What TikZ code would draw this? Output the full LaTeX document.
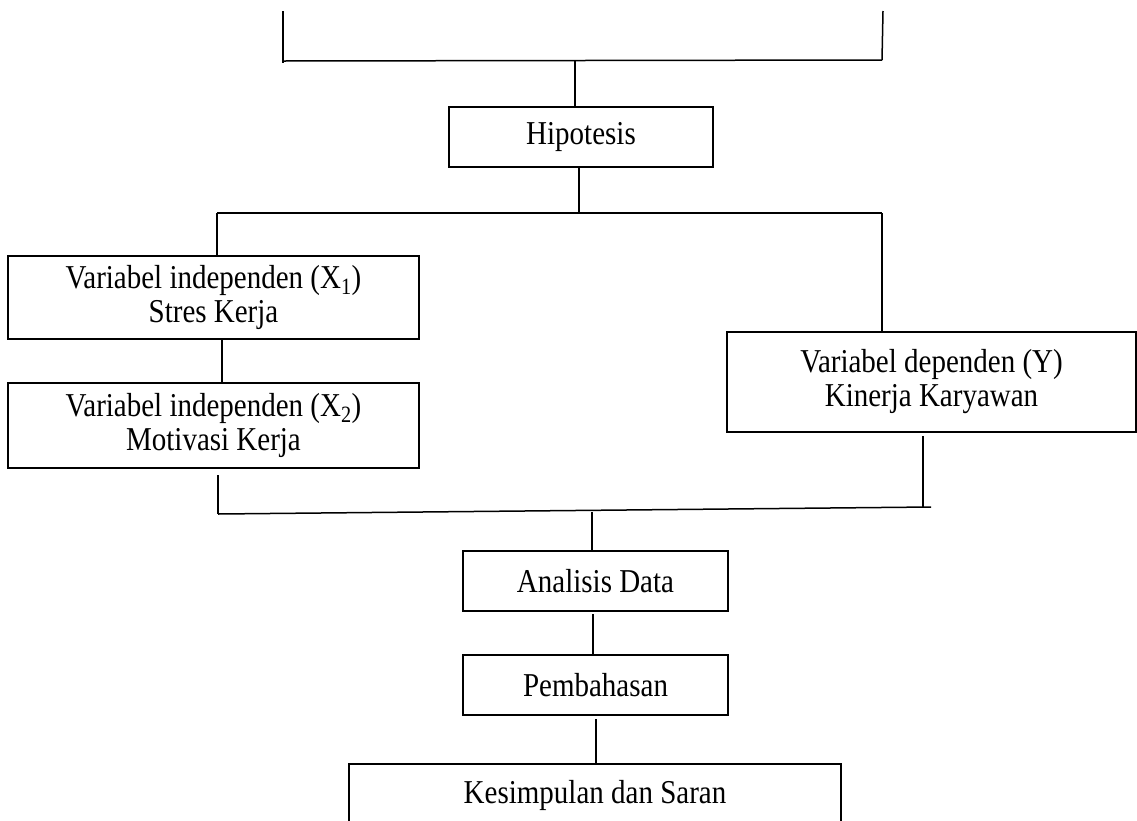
\documentclass[tikz,border=0pt]{standalone}
\usepackage{fontspec}
\setmainfont{Liberation Serif}
\newcommand{\tallline}[1]{\scalebox{1}[1.15]{#1}}
\begin{document}
\begin{tikzpicture}[x=1pt,y=-1pt,
  box/.style={draw=black, line width=1.3pt, inner sep=0pt, align=center,
    font=\fontsize{29}{34}\selectfont},
  conn/.style={draw=black, line width=1.5pt}]
\useasboundingbox (0,0) rectangle (1137,820);
\clip (0,0) rectangle (1137,820);
% boxes
\node[box, minimum width=264pt, minimum height=60pt] (hip) at (581,137) {\tallline{Hipotesis}};
\node[box, minimum width=411pt, minimum height=83pt] (x1) at (213.5,297.5) {\tallline{Variabel independen (X\textsubscript{1})}\\\tallline{Stres Kerja}};
\node[box, minimum width=411pt, minimum height=85pt] (x2) at (213.5,425.5) {\tallline{Variabel independen (X\textsubscript{2})}\\\tallline{Motivasi Kerja}};
\node[box, minimum width=409pt, minimum height=100pt] (dep) at (931.5,382) {\tallline{Variabel dependen (Y)}\\\tallline{Kinerja Karyawan}};
\node[box, minimum width=265pt, minimum height=60pt] (ana) at (595.5,581) {\tallline{Analisis Data}};
\node[box, minimum width=265pt, minimum height=60pt] (pem) at (595.5,685) {\tallline{Pembahasan}};
\node[box, minimum width=492pt, minimum height=70pt, text depth=0pt] (kes) at (595,799) {\raisebox{14pt}{\tallline{Kesimpulan dan Saran}}};
% top bracket
\coordinate (tl1) at (283,11);
\coordinate (tl2) at (283,63);
\coordinate (tr1) at (883,11);
\coordinate (tr2) at (882,60);
\coordinate (tm) at (575,61);
\draw[conn] (tl1) -- (tl2);
\draw[conn] (tr1) -- (tr2);
\draw[conn] (283,61) -- (tr2);
\draw[conn] (tm) -- (tm |- hip.north);
% split below Hipotesis
\coordinate (sm) at (579,213);
\coordinate (sl) at (217,213);
\coordinate (sr) at (882,213);
\draw[conn] (hip.south -| sm) -- (sm);
\draw[conn] (sl) -- (sr);
\draw[conn] (sl) -- (sl |- x1.north);
\draw[conn] (sr) -- (sr |- dep.north);
% X1 to X2
\coordinate (c12) at (222,339);
\draw[conn] (x1.south -| c12) -- (c12 |- x2.north);
% merge
\coordinate (ml1) at (218,475);
\coordinate (ml2) at (218,514);
\coordinate (mr1) at (923,436);
\coordinate (mr2) at (923,508);
\coordinate (mre) at (931,507);
\coordinate (mm) at (592,512);
\draw[conn] (ml1) -- (ml2);
\draw[conn] (mr1) -- (mr2);
\draw[conn] (ml2) -- (mre);
\draw[conn] (mm) -- (mm |- ana.north);
% lower chain
\coordinate (c1) at (593,614);
\draw[conn] (c1) -- (c1 |- pem.north);
\coordinate (c2) at (596,719);
\draw[conn] (c2) -- (c2 |- kes.north);
\end{tikzpicture}
\end{document}
